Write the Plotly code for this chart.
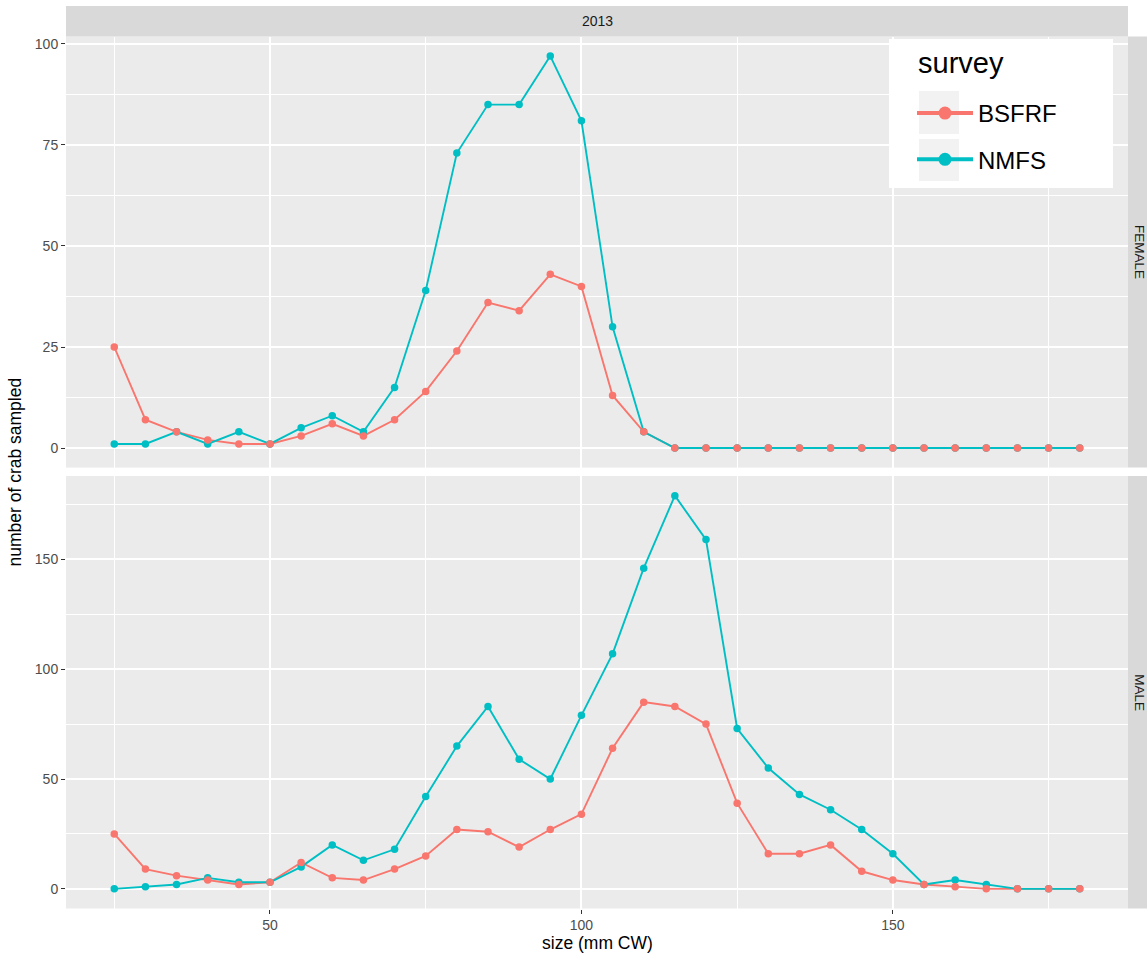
import plotly.graph_objects as go

# Carapace-width bins (mm CW)
sizes = [25, 30, 35, 40, 45, 50, 55, 60, 65, 70, 75, 80, 85, 90, 95, 100,
         105, 110, 115, 120, 125, 130, 135, 140, 145, 150, 155, 160, 165, 170, 175, 180]

# Number of crab sampled per bin, by sex and survey
female_bsfrf = [25, 7, 4, 2, 1, 1, 3, 6, 3, 7, 14, 24, 36, 34, 43, 40,
                13, 4, 0, 0, 0, 0, 0, 0, 0, 0, 0, 0, 0, 0, 0, 0]
female_nmfs = [1, 1, 4, 1, 4, 1, 5, 8, 4, 15, 39, 73, 85, 85, 97, 81,
               30, 4, 0, 0, 0, 0, 0, 0, 0, 0, 0, 0, 0, 0, 0, 0]
male_bsfrf = [25, 9, 6, 4, 2, 3, 12, 5, 4, 9, 15, 27, 26, 19, 27, 34,
              64, 85, 83, 75, 39, 16, 16, 20, 8, 4, 2, 1, 0, 0, 0, 0]
male_nmfs = [0, 1, 2, 5, 3, 3, 10, 20, 13, 18, 42, 65, 83, 59, 50, 79,
             107, 146, 179, 159, 73, 55, 43, 36, 27, 16, 2, 4, 2, 0, 0, 0]

surveys = ["BSFRF", "NMFS"]
survey_colors = {"BSFRF": "#F8766D", "NMFS": "#00BFC4"}
legend_title = "survey"
year_label = "2013"
sex_labels = ["FEMALE", "MALE"]

x_ticks = [50, 100, 150]
x_minor = [25, 75, 125, 175]
female_ticks = [0, 25, 50, 75, 100]
female_minor = [12.5, 37.5, 62.5, 87.5]
male_ticks = [0, 50, 100, 150]
male_minor = [25, 75, 125, 175]

W, H = 1147, 957
FONT = "Liberation Sans, Arial, Helvetica, sans-serif"


def fx(p):
    return p / W


def fy(p):
    return 1 - p / H


def expand(lo, hi, frac=0.05):
    span = hi - lo
    return [lo - span * frac, hi + span * frac]


# panel pixel boxes
PL, PR = 66, 1128
TOP_PANEL = (36.5, 467.6)
BOT_PANEL = (476.0, 908.5)

fig = go.Figure()

panels = [
    (female_bsfrf, female_nmfs, "x", "y"),
    (male_bsfrf, male_nmfs, "x2", "y2"),
]

for bsfrf, nmfs, xa, ya in panels:
    values = {"BSFRF": bsfrf, "NMFS": nmfs}
    # lines first, then points (BSFRF points end up on top)
    for name in ["BSFRF", "NMFS"]:
        fig.add_trace(go.Scatter(
            x=sizes, y=values[name], mode="lines", xaxis=xa, yaxis=ya,
            line=dict(color=survey_colors[name], width=1.9),
            showlegend=False, hoverinfo="skip"))
    for name in ["NMFS", "BSFRF"]:
        fig.add_trace(go.Scatter(
            x=sizes, y=values[name], mode="markers", xaxis=xa, yaxis=ya,
            marker=dict(color=survey_colors[name], size=7.5),
            showlegend=False, name=name))

# legend entries
for name in surveys:
    fig.add_trace(go.Scatter(
        x=[None], y=[None], mode="lines+markers", name=name,
        legendgroup=name, xaxis="x", yaxis="y",
        line=dict(color=survey_colors[name], width=4),
        marker=dict(color=survey_colors[name], size=13)))

x_range = expand(min(sizes), max(sizes))
female_range = expand(0, max(female_bsfrf + female_nmfs))
male_range = expand(0, max(male_bsfrf + male_nmfs))

grid_major = dict(showgrid=True, gridcolor="white", gridwidth=1.6)
tick_style = dict(ticks="outside", ticklen=4, tickwidth=1.3, tickcolor="#333333",
                  tickfont=dict(family=FONT, size=14, color="#4D4D4D"))

common_x = dict(range=x_range, domain=[fx(PL), fx(PR)], tickmode="array",
                tickvals=x_ticks, zeroline=False, showline=False,
                minor=dict(tickvals=x_minor, showgrid=True, gridcolor="white",
                           gridwidth=0.8, ticks=""),
                **grid_major)

fig.update_layout(
    width=W, height=H, autosize=False,
    margin=dict(l=0, r=0, t=0, b=0),
    paper_bgcolor="white", plot_bgcolor="#EBEBEB",
    font=dict(family=FONT, color="#000000"),
    xaxis=dict(anchor="y", showticklabels=False, ticks="", **common_x),
    xaxis2=dict(anchor="y2", matches="x", showticklabels=True, **tick_style, **common_x),
    yaxis=dict(anchor="x", range=female_range, tickmode="array", tickvals=female_ticks,
               domain=[fy(TOP_PANEL[1]), fy(TOP_PANEL[0])], zeroline=False,
               minor=dict(tickvals=female_minor, showgrid=True, gridcolor="white",
                          gridwidth=0.8, ticks=""),
               **grid_major, **tick_style),
    yaxis2=dict(anchor="x2", range=male_range, tickmode="array", tickvals=male_ticks,
                domain=[fy(BOT_PANEL[1]), fy(BOT_PANEL[0])], zeroline=False,
                minor=dict(tickvals=male_minor, showgrid=True, gridcolor="white",
                           gridwidth=0.8, ticks=""),
                **grid_major, **tick_style),
    legend=dict(
        x=fx(912), y=fy(91), xanchor="left", yanchor="top",
        bgcolor="rgba(0,0,0,0)", borderwidth=0,
        font=dict(family=FONT, size=24, color="#000000"),
        tracegroupgap=12, itemsizing="trace", itemwidth=56,
    ),
)

shapes = []
# facet strips
shapes.append(dict(type="rect", xref="paper", yref="paper", layer="below",
                   x0=fx(PL), x1=fx(PR), y0=fy(36.5), y1=fy(6),
                   fillcolor="#D9D9D9", line=dict(width=0)))
for top, bot in [TOP_PANEL, BOT_PANEL]:
    shapes.append(dict(type="rect", xref="paper", yref="paper", layer="below",
                       x0=fx(PR), x1=fx(PR + 32), y0=fy(bot), y1=fy(top),
                       fillcolor="#D9D9D9", line=dict(width=0)))
# legend box and key backgrounds
shapes.append(dict(type="rect", xref="paper", yref="paper", layer="above",
                   x0=fx(889), x1=fx(1113), y0=fy(188), y1=fy(39),
                   fillcolor="white", line=dict(width=0)))
for k0, k1 in [(91, 134), (139, 181)]:
    shapes.append(dict(type="rect", xref="paper", yref="paper", layer="above",
                       x0=fx(919), x1=fx(959), y0=fy(k1), y1=fy(k0),
                       fillcolor="#F2F2F2", line=dict(width=0)))

annotations = [
    dict(text=year_label, xref="paper", yref="paper", x=fx((PL + PR) / 2), y=fy(21.5),
         showarrow=False, xanchor="center", yanchor="middle",
         font=dict(family=FONT, size=14, color="#1A1A1A")),
    dict(text="size (mm CW)", xref="paper", yref="paper", x=fx((PL + PR) / 2), y=fy(943),
         showarrow=False, xanchor="center", yanchor="middle",
         font=dict(family=FONT, size=17.5, color="#000000")),
    dict(text="number of crab sampled", xref="paper", yref="paper", x=fx(15),
         y=fy((TOP_PANEL[0] + BOT_PANEL[1]) / 2), textangle=-90,
         showarrow=False, xanchor="center", yanchor="middle",
         font=dict(family=FONT, size=17.5, color="#000000")),
    dict(text=legend_title, xref="paper", yref="paper", x=fx(916), y=fy(63),
         showarrow=False, xanchor="left", yanchor="middle",
         font=dict(family=FONT, size=29, color="#000000")),
]
for label, (top, bot) in zip(sex_labels, [TOP_PANEL, BOT_PANEL]):
    annotations.append(dict(text=label, xref="paper", yref="paper",
                            x=fx(PR + 12), y=fy((top + bot) / 2), textangle=90,
                            showarrow=False, xanchor="center", yanchor="middle",
                            font=dict(family=FONT, size=13.5, color="#1A1A1A")))

fig.update_layout(shapes=shapes, annotations=annotations)

fig.write_html("out.html")
